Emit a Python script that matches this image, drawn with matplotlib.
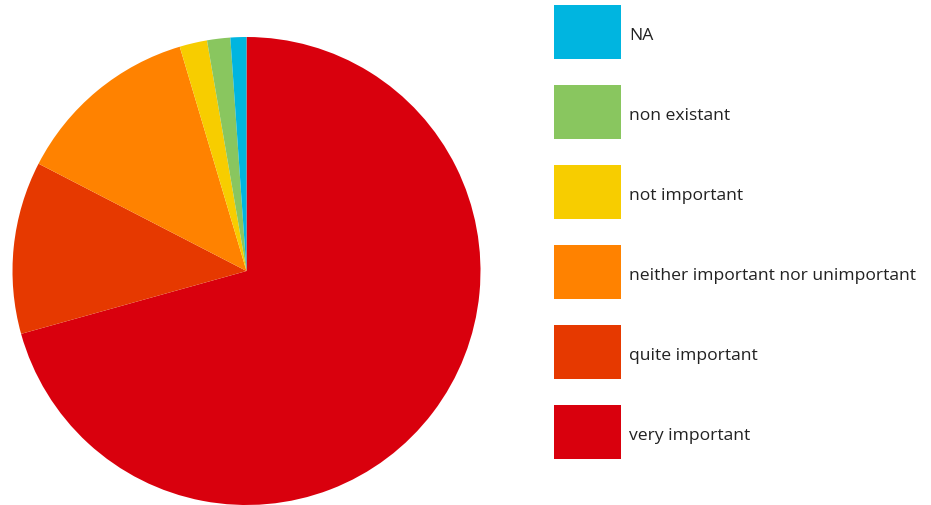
import matplotlib.pyplot as plt
from matplotlib.patches import Rectangle

# slice shares in percent (clockwise from 12 o'clock)
labels = ["very important", "quite important", "neither important nor unimportant",
          "not important", "non existant", "NA"]
shares = [70.6, 11.9, 12.8, 1.9, 1.6, 1.1]
colors = ["#d9000d", "#e63900", "#ff8200", "#f7cd00", "#89c65f", "#00b5e0"]

plt.rcParams['font.family'] = ['Open Sans', 'DejaVu Sans']

W, H = 931, 506
fig = plt.figure(figsize=(W / 100, H / 100), dpi=100)

# pie: centre ~ (246, 272) px, radius ~ 234 px
cx, cy, r = 246.5, 272, 234
ax = fig.add_axes([(cx - r) / W, (H - cy - r) / H, 2 * r / W, 2 * r / H])
ax.pie(shares, colors=colors, startangle=90, counterclock=False,
       wedgeprops=dict(linewidth=0))
ax.set_xlim(-1, 1)
ax.set_ylim(-1, 1)

# legend drawn by hand in pixel space, NA on top
lax = fig.add_axes([0, 0, 1, 1])
lax.set_xlim(0, W)
lax.set_ylim(H, 0)
lax.axis("off")
for i, (lab, col) in enumerate(zip(labels[::-1], colors[::-1])):
    y0 = 5.5 + 80 * i
    lax.add_patch(Rectangle((554, y0), 67, 54, facecolor=col, edgecolor="none"))
    lax.text(629, y0 + 30.5, lab, fontsize=12.6, color="#222222", va="center", ha="left")

fig.savefig("out.png", dpi=100)
